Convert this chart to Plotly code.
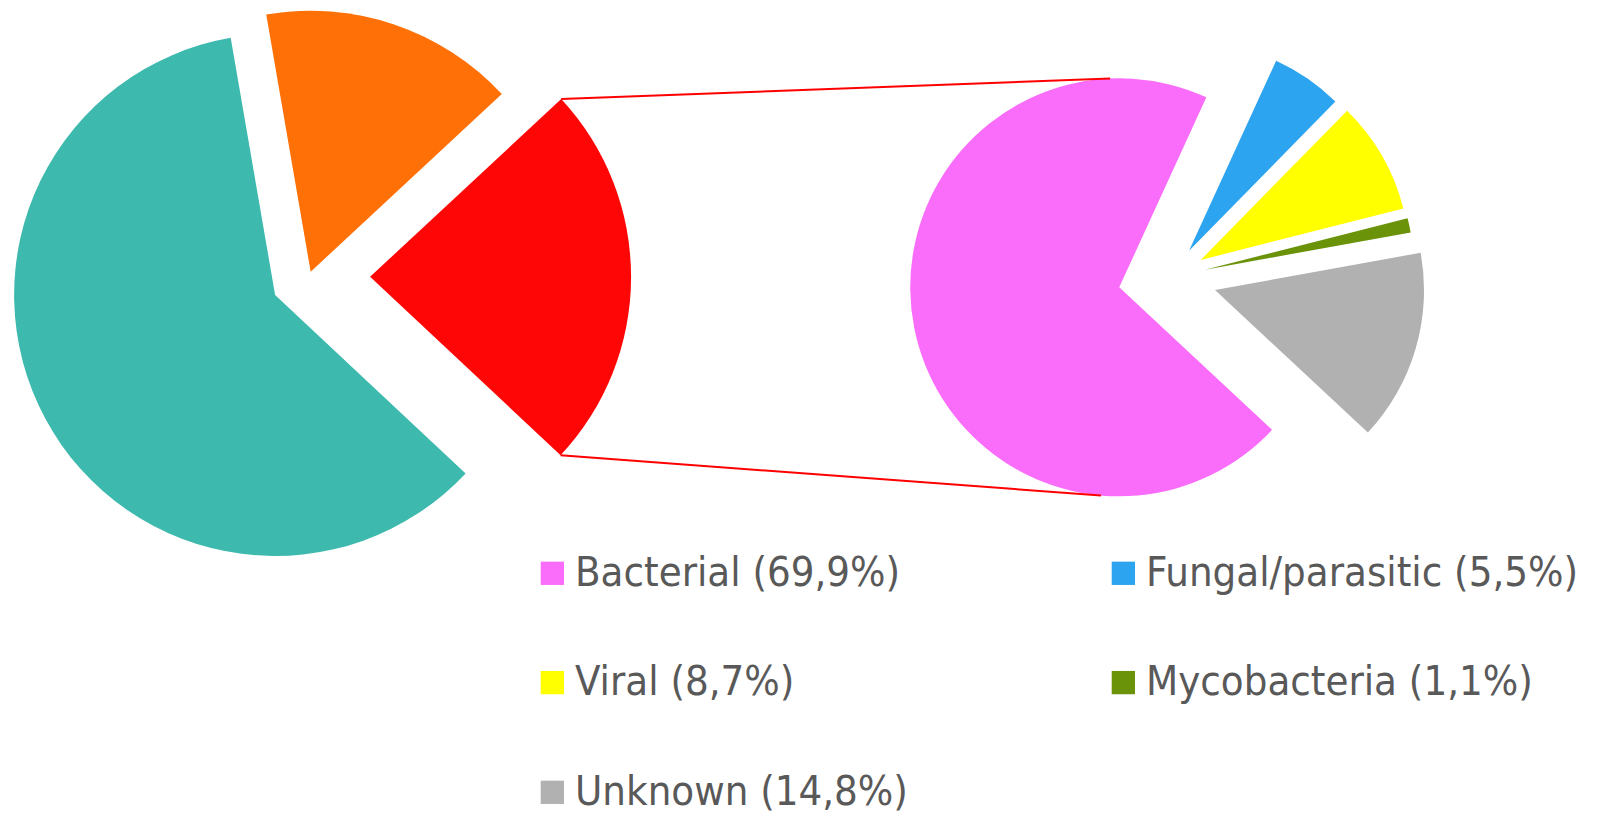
import math
import plotly.graph_objects as go

W, H = 1600, 815

# ---------------- data ----------------
# Overview pie (left): the red slice is broken down in the right pie
left_labels = ["Segment A", "Segment B (broken down)", "Segment C"]
left_values = [15.8, 23.9, 60.3]
left_colors = ["#FF7007", "#FF0606", "#3DB9AE"]

# Breakdown pie (right)
right_labels = ["Bacterial", "Fungal/parasitic", "Viral", "Mycobacteria", "Unknown"]
right_values = [69.9, 5.5, 8.7, 1.1, 14.8]
right_colors = ["#FA6CFA", "#2DA4EF", "#FFFF00", "#6A9309", "#B1B1B1"]

# ---------------- style / layout config ----------------
left_pull = [0.02, 0.234, 0.1475]
left_center = (309.0, 276.7)
left_r = 261.0
left_rotation = -9.8
detail_index = 1  # red slice

right_pull = [0.252, 0.153, 0.165, 0.167, 0.22]
right_center = (1170.9, 277.1)
right_r = 209.0
right_rotation = 133.0
conn_angles = (-2.5, 185.0)  # where connector lines meet the breakdown pie

FONT = "DejaVu Sans Condensed, DejaVu Sans, sans-serif"
TEXT_COLOR = "#595959"
FONT_SIZE = 41.5


def slice_angles(values, rotation):
    tot = float(sum(values))
    a = rotation
    out = []
    for v in values:
        a1 = a + 360.0 * v / tot
        out.append((a, a1))
        a = a1
    return out


def polar(cx, cy, r, ang):
    t = math.radians(ang)
    return cx + r * math.sin(t), cy - r * math.cos(t)


def domain_for(cx, cy, half):
    return dict(x=[(cx - half) / W, (cx + half) / W],
                y=[1 - (cy + half) / H, 1 - (cy - half) / H])


fig = go.Figure()

# ---- left pie: one trace per slice so each exploded slice keeps full radius ----
l_ang = slice_angles(left_values, left_rotation)
left_tips = []
for i, (a0, a1) in enumerate(l_ang):
    mid = (a0 + a1) / 2
    tx, ty = polar(left_center[0], left_center[1], left_pull[i] * left_r, mid)
    left_tips.append((tx, ty))
    cols = [c if j == i else "rgba(0,0,0,0)" for j, c in enumerate(left_colors)]
    fig.add_trace(go.Pie(
        labels=left_labels, values=left_values, sort=False,
        direction="clockwise", rotation=left_rotation,
        marker=dict(colors=cols, line=dict(width=0)),
        textinfo="none", hoverinfo="skip", showlegend=False,
        domain=domain_for(tx, ty, left_r),
    ))

# ---- right pie ----
max_pull = max(right_pull)
half_box = right_r * (1 + max_pull)
fig.add_trace(go.Pie(
    labels=right_labels, values=right_values, sort=False,
    direction="clockwise", rotation=right_rotation,
    pull=right_pull,
    marker=dict(colors=right_colors, line=dict(width=0)),
    textinfo="none", hoverinfo="label+percent", showlegend=False,
    domain=domain_for(right_center[0], right_center[1], half_box),
))

# ---- connector lines ----
r_ang = slice_angles(right_values, right_rotation)
bmid = (r_ang[0][0] + r_ang[0][1]) / 2
pcx, pcy = polar(right_center[0], right_center[1], right_pull[0] * right_r, bmid)
da0, da1 = l_ang[detail_index]
rtx, rty = left_tips[detail_index]
shapes = []
for a_left, a_right in ((da0, conn_angles[0]), (da1, conn_angles[1])):
    x0, y0 = polar(rtx, rty, left_r, a_left)
    x1, y1 = polar(pcx, pcy, right_r, a_right)
    shapes.append(dict(type="line", xref="paper", yref="paper",
                       x0=x0 / W, y0=1 - y0 / H, x1=x1 / W, y1=1 - y1 / H,
                       line=dict(color="#FF0000", width=2)))

# ---- legend (two columns) ----
col_x = [540.7, 1111.7]
row_y = [573.3, 682.6, 792.3]
sq = 23.3
annotations = []
for k, (lab, val, col) in enumerate(zip(right_labels, right_values, right_colors)):
    cx = col_x[k % 2]
    cy = row_y[k // 2]
    shapes.append(dict(type="rect", xref="paper", yref="paper",
                       x0=cx / W, x1=(cx + sq) / W,
                       y0=1 - (cy + sq / 2) / H, y1=1 - (cy - sq / 2) / H,
                       fillcolor=col, line=dict(width=0)))
    txt = "%s (%s%%)" % (lab, ("%.1f" % val).replace(".", ","))
    annotations.append(dict(text=txt, xref="paper", yref="paper",
                            x=(cx + sq + 9) / W, y=1 - (cy - 2) / H,
                            xanchor="left", yanchor="middle", showarrow=False,
                            font=dict(family=FONT, size=FONT_SIZE, color=TEXT_COLOR)))

fig.update_layout(
    width=W, height=H,
    margin=dict(l=0, r=0, t=0, b=0),
    paper_bgcolor="white", plot_bgcolor="white",
    shapes=shapes, annotations=annotations,
    showlegend=False,
)

fig.write_html("out.html",
               config={"displayModeBar": False},
               post_script="document.body.style.margin='0px';document.body.style.overflow='hidden';")
